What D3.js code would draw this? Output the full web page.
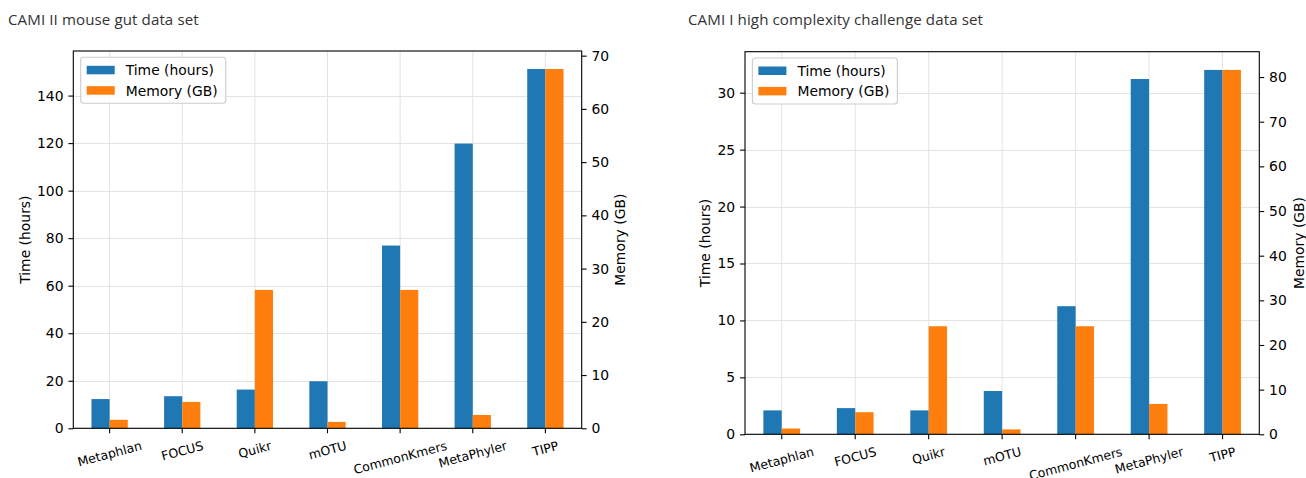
<!DOCTYPE html>
<html>
<head>
<meta charset="utf-8">
<script src="https://cdn.jsdelivr.net/npm/d3@7"></script>
<style>
  html, body { margin: 0; padding: 0; background: #fff; }
  svg { display: block; }
</style>
</head>
<body>
<svg id="chart" width="1306" height="478"></svg>
<script>
const categories = ["Metaphlan", "FOCUS", "Quikr", "mOTU", "CommonKmers", "MetaPhyler", "TIPP"];

const leftTitle = "CAMI II mouse gut data set";
const leftTime = [12.3, 13.5, 16.3, 19.8, 76.9, 119.8, 151.2];
const leftMemory = [1.6, 4.95, 26.0, 1.2, 26.0, 2.5, 67.5];
const leftTimeTicks = [0, 20, 40, 60, 80, 100, 120, 140];
const leftMemoryTicks = [0, 10, 20, 30, 40, 50, 60, 70];

const rightTitle = "CAMI I high complexity challenge data set";
const rightTime = [2.1, 2.3, 2.1, 3.8, 11.25, 31.2, 32.0];
const rightMemory = [1.3, 4.95, 24.2, 1.1, 24.2, 6.8, 81.6];
const rightTimeTicks = [0, 5, 10, 15, 20, 25, 30];
const rightMemoryTicks = [0, 10, 20, 30, 40, 50, 60, 70, 80];

const seriesNames = ["Time (hours)", "Memory (GB)"];
const leftAxisLabel = "Time (hours)";
const rightAxisLabel = "Memory (GB)";

const COLORS = ["#1f77b4", "#ff7f0e"];
const FONT = "DejaVu Sans, sans-serif";
const svg = d3.select("#chart");

function drawPanel(cfg) {
  const { x0, x1, y0, y1, time, memory, timeTicks, memTicks, title, titleX, leftLabelX, rightLabelX } = cfg;
  const g = svg.append("g");

  const x = d3.scaleBand().domain(categories).range([x0, x1]).paddingInner(0).paddingOuter(0);
  const yT = d3.scaleLinear().domain([0, d3.max(time) * 1.05]).range([y1, y0]);
  const yM = d3.scaleLinear().domain([0, d3.max(memory) * 1.05]).range([y1, y0]);
  const bw = x.bandwidth();
  const cx = c => x(c) + bw / 2;

  // grid
  g.append("g").selectAll("line.h").data(timeTicks).join("line")
    .attr("x1", x0).attr("x2", x1)
    .attr("y1", d => Math.round(yT(d)) + 0.5).attr("y2", d => Math.round(yT(d)) + 0.5)
    .attr("stroke", "#e3e3e3").attr("stroke-width", 1);
  g.append("g").selectAll("line.v").data(categories).join("line")
    .attr("x1", d => cx(d)).attr("x2", d => cx(d))
    .attr("y1", y0).attr("y2", y1)
    .attr("stroke", "#e3e3e3").attr("stroke-width", 1);

  // bars
  g.append("g").selectAll("rect").data(categories).join("rect")
    .attr("x", d => cx(d) - bw * 0.25).attr("width", bw * 0.25)
    .attr("y", (d, i) => yT(time[i])).attr("height", (d, i) => y1 - yT(time[i]))
    .attr("fill", COLORS[0]);
  g.append("g").selectAll("rect").data(categories).join("rect")
    .attr("x", d => cx(d)).attr("width", bw * 0.25)
    .attr("y", (d, i) => yM(memory[i])).attr("height", (d, i) => y1 - yM(memory[i]))
    .attr("fill", COLORS[1]);

  // axes
  const tickLen = 4.9, pad = 4.9;
  const axL = d3.axisLeft(yT).tickValues(timeTicks).tickSizeInner(tickLen).tickSizeOuter(0).tickPadding(pad);
  const axR = d3.axisRight(yM).tickValues(memTicks).tickSizeInner(tickLen).tickSizeOuter(0).tickPadding(pad);
  const axB = d3.axisBottom(x).tickSizeInner(tickLen).tickSizeOuter(0).tickFormat("");
  const styleAxis = sel => {
    sel.select(".domain").remove();
    sel.selectAll("line").attr("stroke", "#000").attr("stroke-width", 1.1);
    sel.selectAll("text").attr("font-family", FONT).attr("font-size", 13.9).attr("fill", "#000");
  };
  g.append("g").attr("transform", `translate(${x0},0)`).call(axL).call(styleAxis);
  g.append("g").attr("transform", `translate(${x1},0)`).call(axR).call(styleAxis);
  g.append("g").attr("transform", `translate(0,${y1})`).call(axB).call(styleAxis);

  // frame
  g.append("rect").attr("x", x0).attr("y", y0).attr("width", x1 - x0).attr("height", y1 - y0)
    .attr("fill", "none").attr("stroke", "#000").attr("stroke-width", 1.1);

  // rotated x labels
  const labFs = 12.5;
  const ang = 15 * Math.PI / 180;
  const top = y1 + tickLen + pad;
  categories.forEach(c => {
    const t = g.append("text").text(c)
      .attr("font-family", FONT).attr("font-size", labFs).attr("fill", "#000")
      .attr("text-anchor", "middle");
    const w = t.node().getComputedTextLength();
    const h = labFs * 1.164;
    const bh = w * Math.sin(ang) + h * Math.cos(ang);
    const cy = top + bh / 2;
    t.attr("transform", `translate(${cx(c)},${cy}) rotate(-15)`).attr("dy", "0.36em");
  });

  // axis labels
  const midY = (y0 + y1) / 2;
  g.append("text").text(leftAxisLabel)
    .attr("transform", `translate(${leftLabelX},${midY}) rotate(-90)`)
    .attr("text-anchor", "middle").attr("dy", "0.36em")
    .attr("font-family", FONT).attr("font-size", 13.9).attr("fill", "#000");
  g.append("text").text(rightAxisLabel)
    .attr("transform", `translate(${rightLabelX},${midY}) rotate(-90)`)
    .attr("text-anchor", "middle").attr("dy", "0.36em")
    .attr("font-family", FONT).attr("font-size", 13.9).attr("fill", "#000");

  // title
  g.append("text").text(title).attr("x", titleX).attr("y", 25)
    .attr("font-family", "Open Sans, sans-serif").attr("font-size", 15.1)
    .attr("letter-spacing", "0.1px").attr("fill", "#333");

  // legend
  const lx = x0 + 7.4, ly = y0 + 6.3;
  const lg = g.append("g");
  lg.append("rect").attr("x", lx).attr("y", ly).attr("width", 145).attr("height", 46)
    .attr("rx", 3).attr("fill", "#fff").attr("fill-opacity", 0.8)
    .attr("stroke", "#cccccc").attr("stroke-width", 1.1);
  seriesNames.forEach((s, i) => {
    const ry = ly + 8.5 + i * 20.4;
    lg.append("rect").attr("x", lx + 6).attr("y", ry).attr("width", 28).attr("height", 8.5).attr("fill", COLORS[i]);
    lg.append("text").text(s).attr("x", lx + 45).attr("y", ry + 4.3).attr("dy", "0.36em")
      .attr("font-family", FONT).attr("font-size", 13.9).attr("fill", "#000");
  });
}

drawPanel({
  x0: 73.3, x1: 581.7, y0: 51, y1: 428.3,
  time: leftTime, memory: leftMemory, timeTicks: leftTimeTicks, memTicks: leftMemoryTicks,
  title: leftTitle, titleX: 8, leftLabelX: 25, rightLabelX: 620
});
drawPanel({
  x0: 745, x1: 1259.3, y0: 51.7, y1: 434.3,
  time: rightTime, memory: rightMemory, timeTicks: rightTimeTicks, memTicks: rightMemoryTicks,
  title: rightTitle, titleX: 688, leftLabelX: 705, rightLabelX: 1299
});
</script>
</body>
</html>
